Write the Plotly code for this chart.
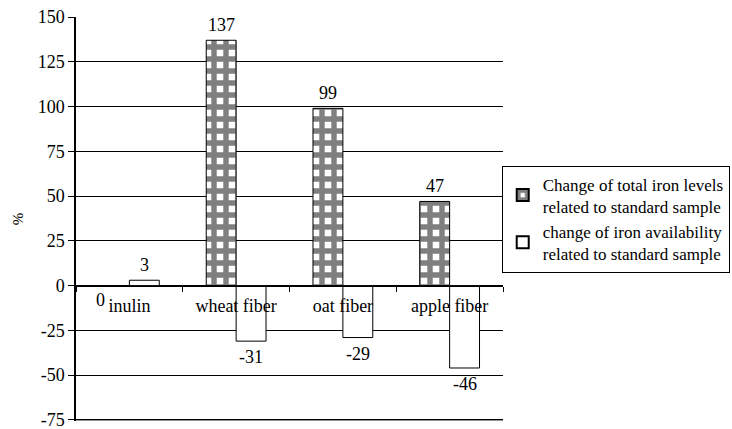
import plotly.graph_objects as go

categories = ["inulin", "wheat fiber", "oat fiber", "apple fiber"]
total_iron = [0, 137, 99, 47]
availability = [3, -31, -29, -46]
series_names = ["Change of total iron levels<br>related to standard sample",
                "change of iron availability<br>related to standard sample"]
ytick_vals = [-75, -50, -25, 0, 25, 50, 75, 100, 125, 150]
ytick_text = [str(v) for v in ytick_vals]

FONT = "Liberation Serif"

fig = go.Figure()
fig.add_trace(go.Bar(
    x=categories, y=total_iron, name=series_names[0],
    marker=dict(color="white", line=dict(color="black", width=1),
                pattern=dict(shape="+", fgcolor="black", bgcolor="white",
                             size=12, solidity=0.7)),
))
fig.add_trace(go.Bar(
    x=categories, y=availability, name=series_names[1],
    marker=dict(color="white", line=dict(color="black", width=1)),
))

annotations = []
for ti, (series, off) in enumerate([(total_iron, -0.5), (availability, 0.5)]):
    for i, v in enumerate(series):
        annotations.append(dict(
            x=i, y=v, xref="x", yref="y", text=str(v), showarrow=False,
            xshift=off * 30 - (14 if v == 0 else 0),
            yanchor="bottom" if v > 0 else "top",
            yshift=3 if v > 0 else (-4 if v < 0 else -2),
            font=dict(family=FONT, size=18, color="black"),
        ))

# gridline at the bottom of the range (hidden by plotly at the edge)
shapes = [dict(type="line", xref="paper", yref="y", x0=0, x1=1,
               y0=ytick_vals[0], y1=ytick_vals[0],
               line=dict(color="black", width=1), layer="below")]

fig.update_layout(
    width=732, height=429,
    margin=dict(l=76, r=229, t=17, b=8, autoexpand=False),
    paper_bgcolor="white", plot_bgcolor="white",
    barmode="group", bargap=0.44, bargroupgap=0,
    font=dict(family=FONT, size=18, color="black"),
    showlegend=True,
    legend=dict(x=0.997, xanchor="left", y=0.5, yanchor="middle",
                bordercolor="black", borderwidth=1, itemwidth=30,
                font=dict(family=FONT, size=17, color="black"),
                tracegroupgap=0, itemsizing="constant"),
    annotations=annotations,
    shapes=shapes,
    xaxis=dict(
        type="category", tickson="boundaries", ticks="outside", ticklen=5,
        tickcolor="black", showline=True, linecolor="black", linewidth=1,
        anchor="free", position=1/3, showgrid=False, ticklabelstandoff=3,
        automargin=False,
        tickfont=dict(family=FONT, size=18, color="black"),
    ),
    yaxis=dict(
        range=[-75.6, 150], tickvals=ytick_vals, ticktext=ytick_text,
        ticks="outside", ticklen=6, ticklabeloverflow="allow",
        automargin=False,
        tickcolor="black", showline=True, linecolor="black", linewidth=1.5,
        showgrid=True, gridcolor="black", gridwidth=1, zeroline=False,
        title=dict(text="%", font=dict(family=FONT, size=15), standoff=10),
        tickfont=dict(family=FONT, size=18, color="black"),
    ),
)

fig.write_html("out.html")
